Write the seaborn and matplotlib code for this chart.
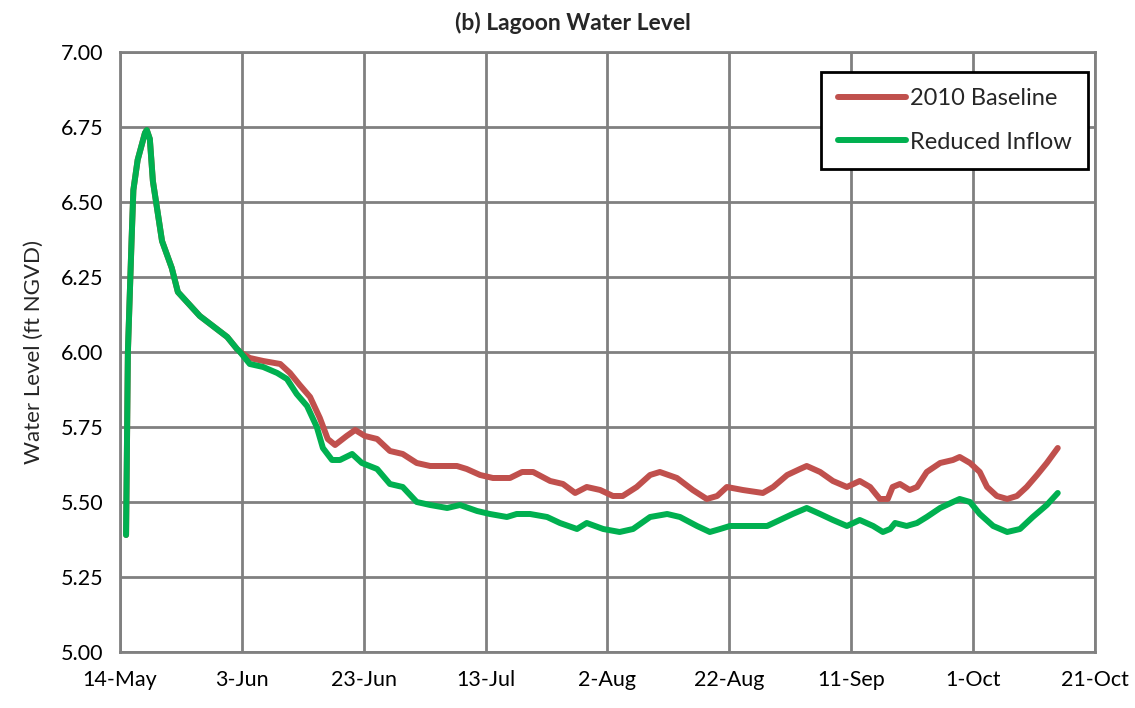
import pandas as pd
import numpy as np
import matplotlib
matplotlib.use('Agg')
import matplotlib.pyplot as plt
import matplotlib.dates as mdates
import seaborn as sns

# Days after 14-May-2010 and water level (ft NGVD)
baseline_day = [1.0, 1.3, 1.9, 2.2, 2.9, 4.1, 4.4, 4.9, 5.4, 6.9, 8.5, 9.5, 13.1, 17.6, 19.2,
                19.7, 21.3, 23.5, 26.3, 27.9, 29.5, 31.2, 32.8, 34.1, 35.3, 37.2, 38.6, 40.2,
                42.2, 44.3, 46.4, 48.7, 50.9, 53.0, 55.3, 56.9, 59.1, 61.2, 64.0, 66.0, 67.8,
                70.6, 72.7, 74.7, 76.6, 78.8, 80.9, 82.5, 84.8, 87.0, 88.6, 91.4, 94.0, 96.3,
                98.0, 99.6, 102.2, 105.5, 107.2, 109.5, 111.6, 112.7, 114.9, 117.0, 119.3,
                121.4, 123.1, 124.7, 126.0, 126.8, 128.0, 129.6, 130.8, 132.4, 134.6, 136.7,
                137.8, 139.5, 141.1, 142.3, 143.9, 145.6, 147.2, 148.8, 150.5, 152.1, 153.9]
baseline_level = [5.39, 6.00, 6.37, 6.54, 6.64, 6.73, 6.74, 6.71, 6.57, 6.37, 6.28, 6.20, 6.12, 6.05, 6.01,
                  6.00, 5.98, 5.97, 5.96, 5.93, 5.89, 5.85, 5.78, 5.71, 5.69, 5.72, 5.74, 5.72,
                  5.71, 5.67, 5.66, 5.63, 5.62, 5.62, 5.62, 5.61, 5.59, 5.58, 5.58, 5.60, 5.60,
                  5.57, 5.56, 5.53, 5.55, 5.54, 5.52, 5.52, 5.55, 5.59, 5.60, 5.58, 5.54, 5.51,
                  5.52, 5.55, 5.54, 5.53, 5.55, 5.59, 5.61, 5.62, 5.60, 5.57, 5.55,
                  5.57, 5.55, 5.51, 5.51, 5.55, 5.56, 5.54, 5.55, 5.60, 5.63, 5.64,
                  5.65, 5.63, 5.60, 5.55, 5.52, 5.51, 5.52, 5.55, 5.59, 5.63, 5.68]

inflow_day = [1.0, 1.3, 1.9, 2.2, 2.9, 4.1, 4.4, 4.9, 5.4, 6.9, 8.5, 9.5, 13.1, 17.6, 19.2,
              19.7, 21.3, 23.5, 25.8, 27.4, 29.0, 30.7, 32.3, 33.3, 34.8, 36.1, 38.1, 39.7,
              42.2, 44.3, 46.4, 48.7, 50.9, 53.7, 55.8, 58.6, 60.7, 63.5, 65.1, 67.3, 70.1,
              72.2, 75.0, 76.6, 79.3, 82.0, 84.2, 87.0, 89.8, 91.9, 94.7, 96.8, 98.5, 100.1,
              103.4, 106.2, 108.3, 110.4, 112.7, 114.9, 117.0, 119.3, 121.4, 123.6, 125.2,
              126.4, 127.2, 129.1, 130.8, 132.4, 134.6, 136.7, 137.8, 139.5, 141.1, 143.3,
              145.6, 147.7, 149.8, 152.1, 153.9]
inflow_level = [5.39, 6.00, 6.37, 6.54, 6.64, 6.73, 6.74, 6.71, 6.57, 6.37, 6.28, 6.20, 6.12, 6.05, 6.01,
                6.00, 5.96, 5.95, 5.93, 5.91, 5.86, 5.82, 5.75, 5.68, 5.64, 5.64, 5.66, 5.63,
                5.61, 5.56, 5.55, 5.50, 5.49, 5.48, 5.49, 5.47, 5.46, 5.45, 5.46, 5.46, 5.45,
                5.43, 5.41, 5.43, 5.41, 5.40, 5.41, 5.45, 5.46, 5.45, 5.42, 5.40, 5.41, 5.42,
                5.42, 5.42, 5.44, 5.46, 5.48, 5.46, 5.44, 5.42, 5.44, 5.42, 5.40,
                5.41, 5.43, 5.42, 5.43, 5.45, 5.48, 5.50, 5.51, 5.50, 5.46, 5.42,
                5.40, 5.41, 5.45, 5.49, 5.53]

series_names = ['2010 Baseline', 'Reduced Inflow']
series_colors = ['#C0504D', '#00B050']
tick_dates = ['2010-05-14', '2010-06-03', '2010-06-23', '2010-07-13', '2010-08-02',
              '2010-08-22', '2010-09-11', '2010-10-01', '2010-10-21']
y_ticks = [5.00, 5.25, 5.50, 5.75, 6.00, 6.25, 6.50, 6.75, 7.00]

start = pd.Timestamp('2010-05-14')
df = pd.concat([
    pd.DataFrame({'date': start + pd.to_timedelta(baseline_day, unit='D'),
                  'level': baseline_level, 'series': series_names[0]}),
    pd.DataFrame({'date': start + pd.to_timedelta(inflow_day, unit='D'),
                  'level': inflow_level, 'series': series_names[1]}),
], ignore_index=True)

sns.set_style('white')
plt.rcParams['font.family'] = ['Lato', 'DejaVu Sans']

fig = plt.figure(figsize=(11.35, 7.08), dpi=100)
ax = fig.add_axes([0.1057, 0.0791, 0.859, 0.8475])

grid_c = '#808080'
sns.lineplot(data=df, x='date', y='level', hue='series', hue_order=series_names,
             palette=dict(zip(series_names, series_colors)), estimator=None,
             linewidth=4.3, ax=ax)

ax.set_xlim(pd.Timestamp(tick_dates[0]), pd.Timestamp(tick_dates[-1]))
ax.set_ylim(5.0, 7.0)
ax.set_xticks(pd.to_datetime(tick_dates))
ax.xaxis.set_major_formatter(mdates.DateFormatter('%-d-%b'))
ax.set_yticks(y_ticks)
ax.set_yticklabels([f'{v:.2f}' for v in y_ticks])

ax.grid(True, color=grid_c, linewidth=2)
ax.set_axisbelow(True)
for s in ax.spines.values():
    s.set_color(grid_c)
    s.set_linewidth(2)
ax.tick_params(axis='both', labelsize=15.5, colors=grid_c, labelcolor='black', width=2)
ax.tick_params(axis='y', length=7, pad=5)
ax.tick_params(axis='x', length=4, pad=9)

ax.set_xlabel('')
ax.set_ylabel('Water Level (ft NGVD)', fontsize=16, labelpad=12)
fig.text(0.505, 0.968, '(b) Lagoon Water Level', ha='center', va='center',
         fontsize=16.5, fontweight='bold')

leg = ax.legend(loc='upper right', bbox_to_anchor=(0.993, 0.967), borderaxespad=0,
                fontsize=17, fancybox=False, framealpha=1, edgecolor='black',
                handlelength=2.9, handletextpad=0.15, labelspacing=0.95, borderpad=0.7)
leg.get_frame().set_linewidth(2)

fig.savefig('out.png', dpi=100)
